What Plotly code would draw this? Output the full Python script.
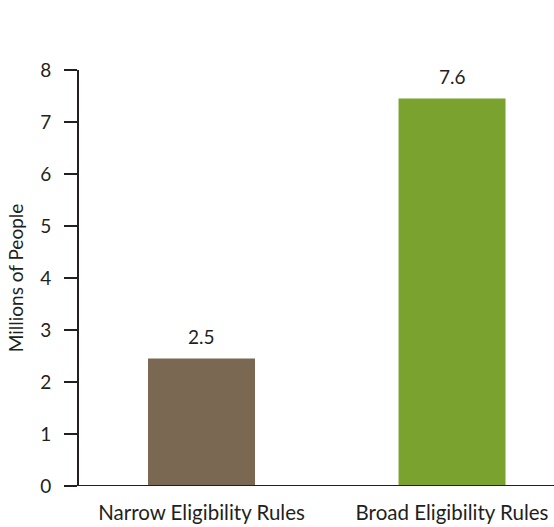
import plotly.graph_objects as go

categories = ["Narrow Eligibility Rules", "Broad Eligibility Rules"]
values = [2.45, 7.45]
value_labels = ["2.5", "7.6"]
colors = ["#7a6852", "#79a22f"]
y_ticks = [0, 1, 2, 3, 4, 5, 6, 7, 8]

FONT = "Lato"
TXT = "#231f20"
FS = 19

fig = go.Figure()
fig.add_trace(go.Bar(
    x=[0, 1], y=values, width=0.427,
    marker=dict(color=colors, line=dict(width=0)),
    hoverinfo="skip",
))
for i, (v, lab) in enumerate(zip(values, value_labels)):
    fig.add_annotation(x=i, y=v, text=lab, showarrow=False, yanchor="bottom",
                       yshift=9, font=dict(family=FONT, size=FS, color=TXT))

fig.update_layout(
    width=554, height=527,
    margin=dict(l=79, r=0, t=70, b=41),
    paper_bgcolor="white", plot_bgcolor="white",
    showlegend=False,
    font=dict(family=FONT, size=FS, color=TXT),
    xaxis=dict(
        range=[-0.489, 1.407], tickvals=[0, 1], ticktext=categories,
        showgrid=False, zeroline=False, showline=False,
        ticks="outside", ticklen=8, tickcolor="rgba(0,0,0,0)",
        tickfont=dict(family=FONT, size=20.5, color=TXT),
    ),
    yaxis=dict(
        range=[0, 8], tickvals=y_ticks, showgrid=False, zeroline=False,
        showline=True, linecolor=TXT, linewidth=2,
        ticks="outside", ticklen=13, tickwidth=1.5, tickcolor=TXT,
        ticklabelstandoff=9,
        tickfont=dict(family=FONT, size=FS, color=TXT),
        title=dict(text="Millions of People", font=dict(family=FONT, size=FS, color=TXT), standoff=12),
    ),
)
fig.add_shape(type="line", xref="paper", yref="y", x0=0, x1=1, y0=0, y1=0,
              line=dict(color=TXT, width=2))

fig.write_html("out.html")
